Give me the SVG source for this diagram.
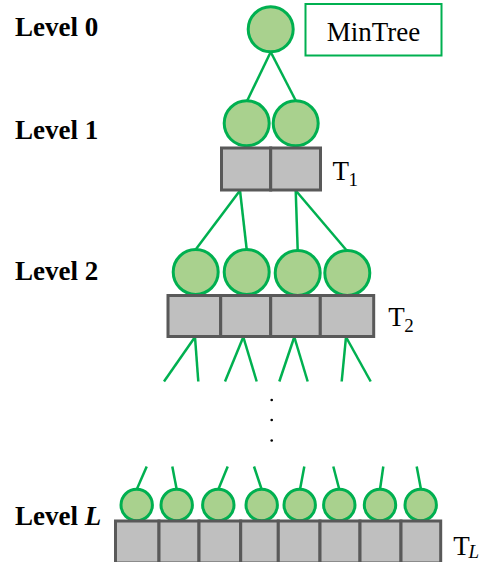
<svg xmlns="http://www.w3.org/2000/svg" width="481" height="562" viewBox="0 0 481 562">
  <style>
    .node { fill: #a9d18e; stroke: #00b050; stroke-width: 3; }
    .cell { fill: #bfbfbf; stroke: #595959; stroke-width: 3; }
    .edge { stroke: #00b050; stroke-width: 2.5; fill: none; }
    .level { font-family: "Liberation Serif", "Times New Roman", serif; font-weight: bold; font-size: 27px; fill: #000; }
    .lbl { font-family: "Liberation Serif", "Times New Roman", serif; font-size: 27px; fill: #000; }
    .sub { font-family: "Liberation Serif", "Times New Roman", serif; font-size: 19px; fill: #000; }
  </style>
  <rect width="481" height="562" fill="#ffffff"/>

  <!-- level captions -->
  <g id="levels">
    <text class="level" x="15" y="36">Level 0</text>
    <text class="level" x="15" y="138.5">Level 1</text>
    <text class="level" x="15" y="279.5">Level 2</text>
    <text class="level" x="15" y="525">Level <tspan font-style="italic">L</tspan></text>
  </g>

  <!-- legend -->
  <g id="mintree-legend">
    <rect x="305.5" y="4" width="136" height="51.5" fill="#ffffff" stroke="#00b050" stroke-width="2"/>
    <text class="lbl" x="373.5" y="40.5" text-anchor="middle">MinTree</text>
  </g>

  <!-- connectors -->
  <g id="connectors">
    <line class="edge" x1="270.7" y1="52" x2="247.3" y2="100.5"/>
    <line class="edge" x1="270.7" y1="52" x2="295.7" y2="100.5"/>

    <line class="edge" x1="240" y1="190.5" x2="195.7" y2="249.5"/>
    <line class="edge" x1="240" y1="190.5" x2="246.7" y2="249.5"/>
    <line class="edge" x1="295.7" y1="190.5" x2="297.7" y2="250.5"/>
    <line class="edge" x1="295.7" y1="190.5" x2="346.7" y2="250.5"/>

    <line class="edge" x1="195" y1="337" x2="164" y2="381.5"/>
    <line class="edge" x1="195" y1="337" x2="198.3" y2="381.5"/>
    <line class="edge" x1="243.3" y1="337" x2="225" y2="381.5"/>
    <line class="edge" x1="243.3" y1="337" x2="256.7" y2="381.5"/>
    <line class="edge" x1="294.3" y1="337" x2="279.3" y2="381.5"/>
    <line class="edge" x1="294.3" y1="337" x2="307.7" y2="381.5"/>
    <line class="edge" x1="346" y1="337" x2="341.7" y2="381.5"/>
    <line class="edge" x1="346" y1="337" x2="370.7" y2="381.5"/>

    <line class="edge" x1="146.7" y1="466.5" x2="136.7" y2="489.5"/>
    <line class="edge" x1="172.3" y1="466.5" x2="176.7" y2="489.5"/>
    <line class="edge" x1="227.7" y1="466.5" x2="218.3" y2="489.5"/>
    <line class="edge" x1="254" y1="466.5" x2="261.7" y2="489.5"/>
    <line class="edge" x1="304.3" y1="466.5" x2="300" y2="489.5"/>
    <line class="edge" x1="333.3" y1="466.5" x2="339.3" y2="489.5"/>
    <line class="edge" x1="383.3" y1="466.5" x2="380" y2="489.5"/>
    <line class="edge" x1="416.7" y1="466.5" x2="421" y2="489.5"/>
  </g>

  <!-- continuation dots -->
  <g id="ellipsis" fill="#000">
    <circle cx="271.7" cy="400" r="1.3"/>
    <circle cx="271.7" cy="420" r="1.3"/>
    <circle cx="271.7" cy="440.5" r="1.3"/>
  </g>

  <!-- level 0 -->
  <g id="node-root">
    <circle class="node" cx="270.7" cy="29.3" r="22.5"/>
  </g>

  <!-- level 1 -->
  <g id="level1-nodes">
    <circle class="node" cx="246.7" cy="123.3" r="22.5"/>
    <circle class="node" cx="295.7" cy="123.3" r="22.5"/>
  </g>
  <g id="table-T1">
    <rect class="cell" x="221.5" y="148" width="49.2" height="42"/>
    <rect class="cell" x="270.7" y="148" width="49.8" height="42"/>
    <text class="lbl" x="332.5" y="179.5">T</text>
    <text class="sub" x="348.5" y="185.5">1</text>
  </g>

  <!-- level 2 -->
  <g id="level2-nodes">
    <circle class="node" cx="195.7" cy="272" r="22.5"/>
    <circle class="node" cx="246.7" cy="272" r="22.5"/>
    <circle class="node" cx="297.7" cy="273" r="22.5"/>
    <circle class="node" cx="347.3" cy="273" r="22.5"/>
  </g>
  <g id="table-T2">
    <rect class="cell" x="168" y="295.5" width="52.7" height="41"/>
    <rect class="cell" x="220.7" y="295.5" width="50" height="41"/>
    <rect class="cell" x="270.7" y="295.5" width="49.6" height="41"/>
    <rect class="cell" x="320.3" y="295.5" width="53.4" height="41"/>
    <text class="lbl" x="388.3" y="326">T</text>
    <text class="sub" x="404.3" y="332">2</text>
  </g>

  <!-- level L -->
  <g id="levelL-nodes">
    <circle class="node" cx="136.7" cy="505" r="15.7"/>
    <circle class="node" cx="176.7" cy="505" r="15.7"/>
    <circle class="node" cx="218.3" cy="505" r="15.7"/>
    <circle class="node" cx="261.7" cy="505" r="15.7"/>
    <circle class="node" cx="299.7" cy="505" r="15.7"/>
    <circle class="node" cx="339.3" cy="505" r="15.7"/>
    <circle class="node" cx="380" cy="505" r="15.7"/>
    <circle class="node" cx="420.7" cy="505" r="15.7"/>
  </g>
  <g id="table-TL">
    <rect class="cell" x="115.5" y="521" width="43.5" height="42"/>
    <rect class="cell" x="159" y="521" width="40" height="42"/>
    <rect class="cell" x="199" y="521" width="41.7" height="42"/>
    <rect class="cell" x="240.7" y="521" width="37.6" height="42"/>
    <rect class="cell" x="278.3" y="521" width="41.7" height="42"/>
    <rect class="cell" x="320" y="521" width="40" height="42"/>
    <rect class="cell" x="360" y="521" width="41" height="42"/>
    <rect class="cell" x="401" y="521" width="39.7" height="42"/>
    <text class="lbl" x="453.3" y="555">T</text>
    <text class="sub" x="468.5" y="558" font-style="italic">L</text>
  </g>
</svg>
